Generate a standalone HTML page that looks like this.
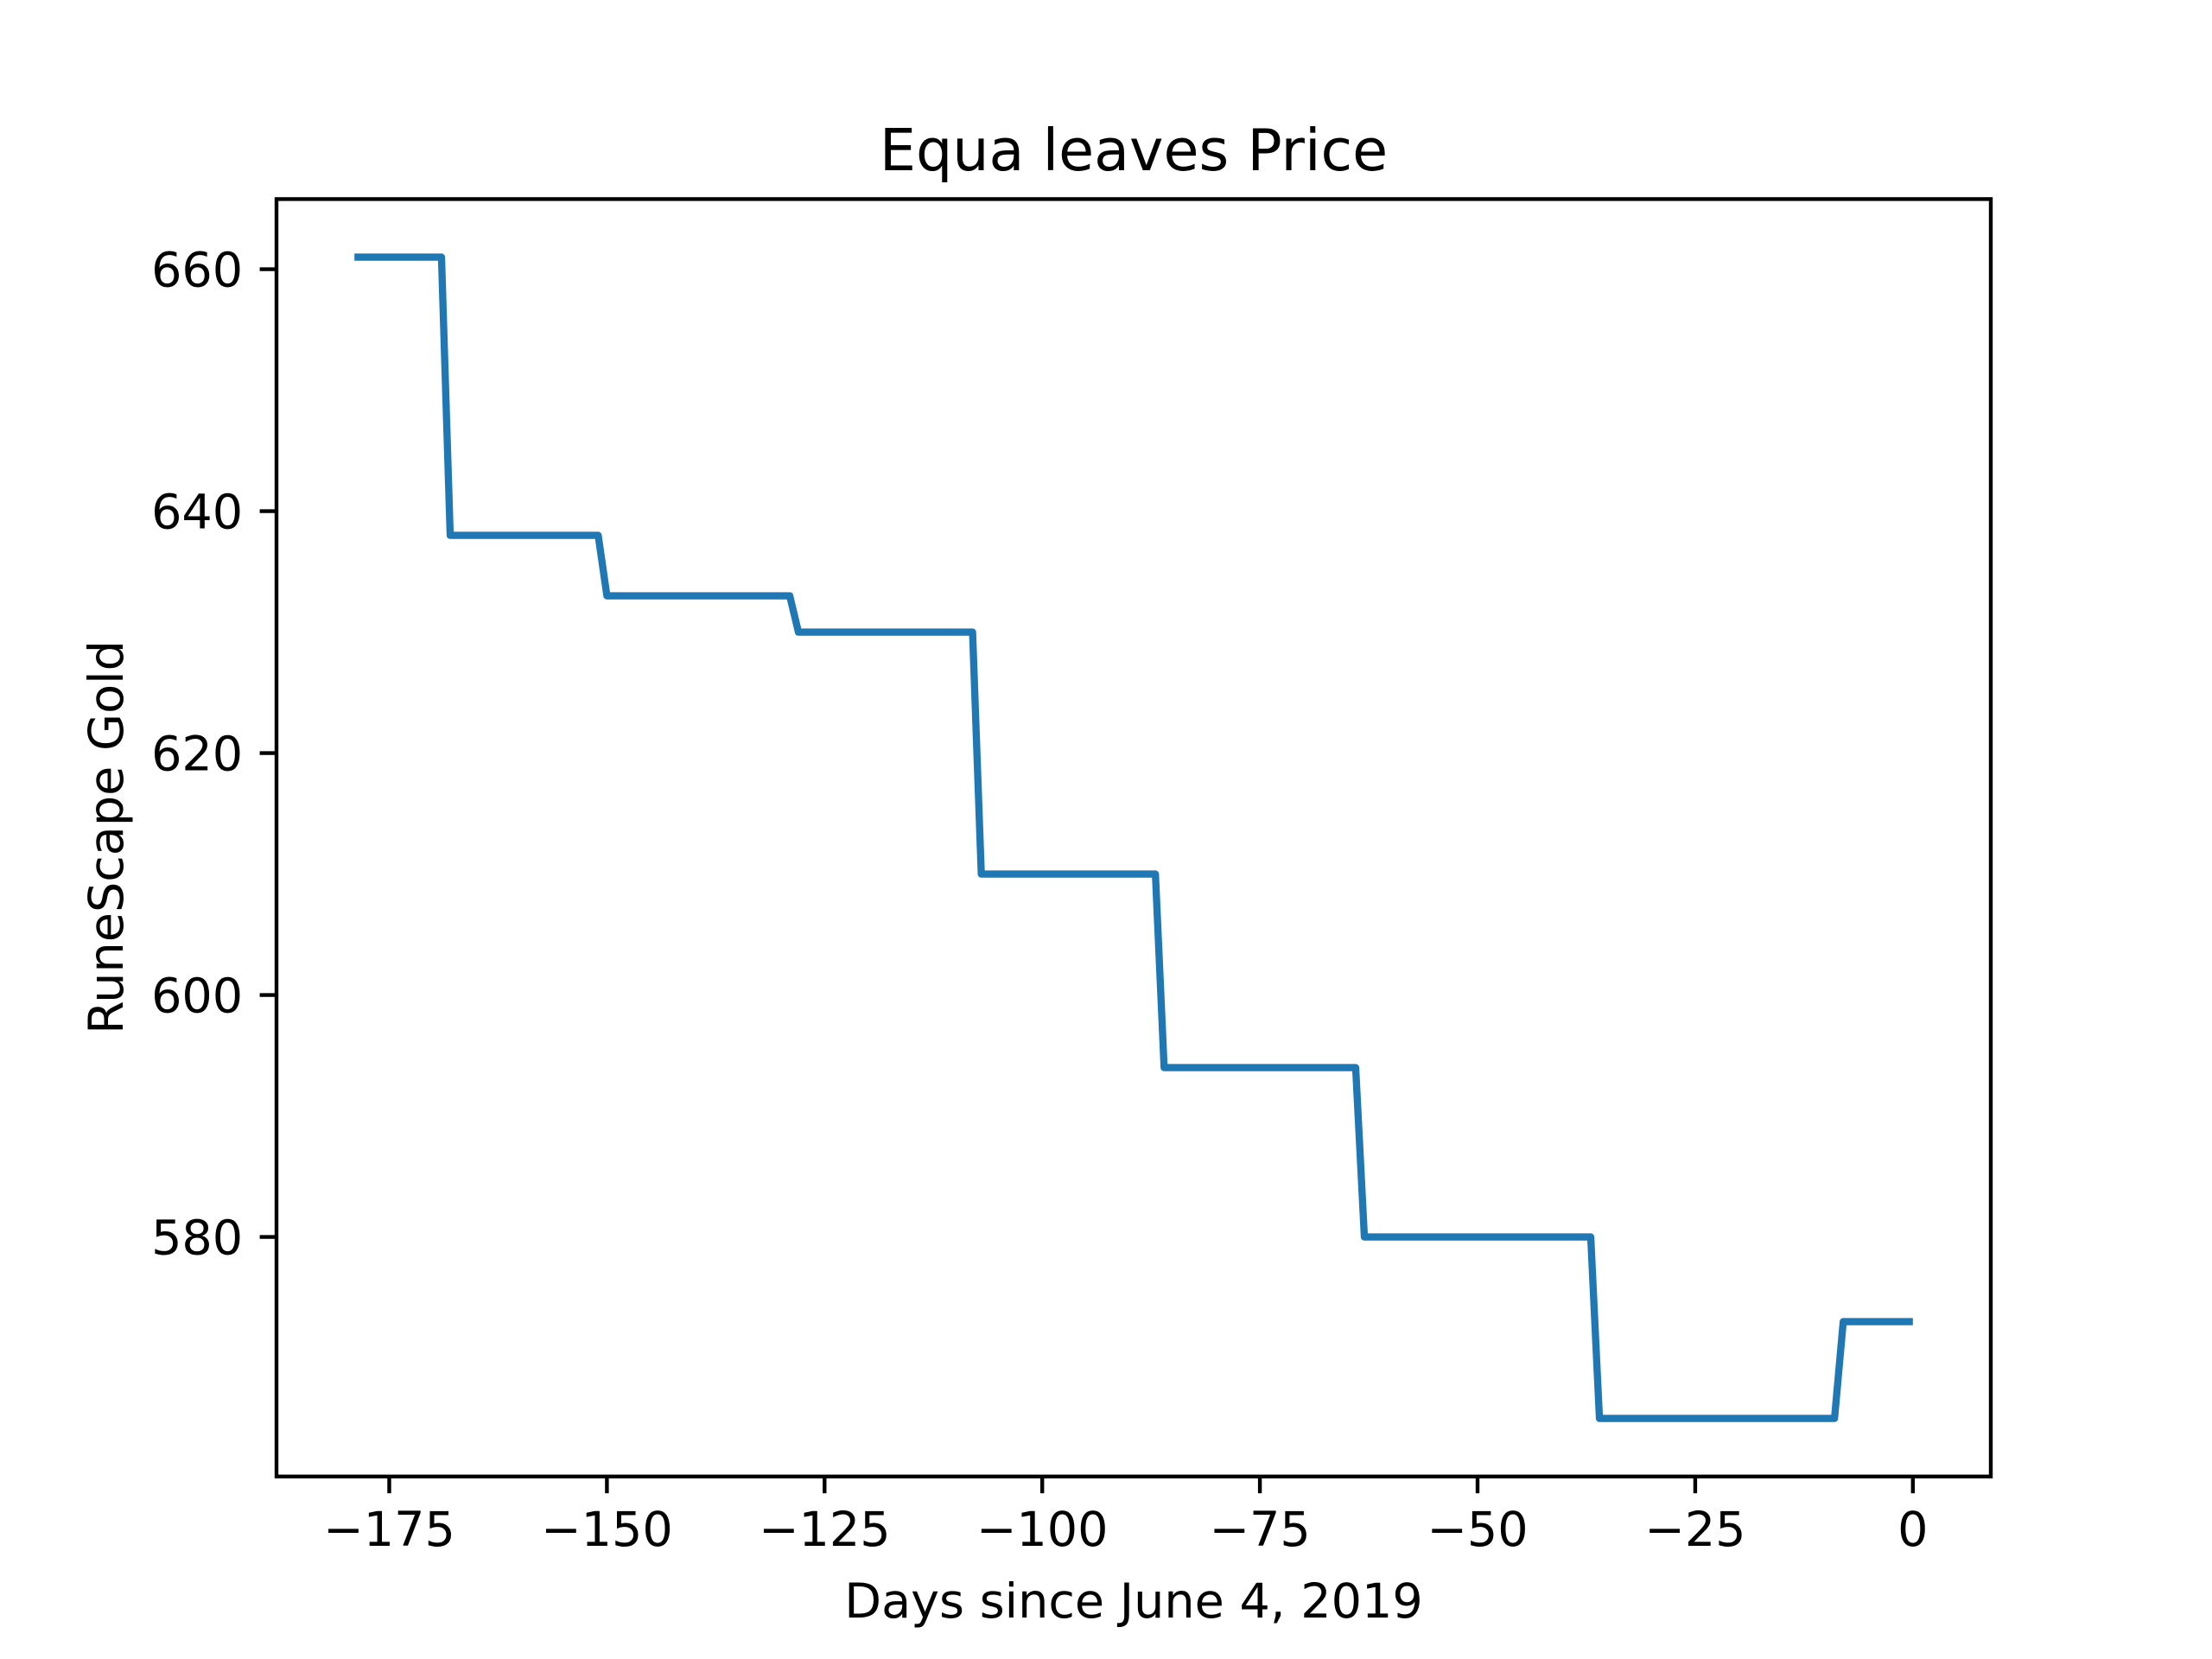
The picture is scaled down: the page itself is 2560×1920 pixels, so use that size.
<!DOCTYPE html>
<html><head><meta charset="utf-8"><style>html,body{margin:0;padding:0;background:#fff}svg{display:block}</style></head>
<body>
<svg id="chart" width="2560" height="1920" xmlns="http://www.w3.org/2000/svg" font-family="DejaVu Sans, Liberation Sans, sans-serif">
<rect width="2560" height="1920" fill="#fff"/>
<g id="plot"></g>
<text x="1312" y="197" font-size="66.7" text-anchor="middle">Equa leaves Price</text>
<text x="1312" y="1872" font-size="55.6" text-anchor="middle">Days since June 4, 2019</text>
<text x="0" y="0" font-size="55.6" text-anchor="middle" transform="translate(142,969) rotate(-90)">RuneScape Gold</text>
</svg>
<script>
const days = [-179, -169, -168, -151, -150, -129, -128, -108, -107, -87, -86, -64, -63, -37, -36, -9, -8, 0];
const prices = [661, 661, 638, 638, 633, 633, 630, 630, 610, 610, 594, 594, 580, 580, 565, 565, 573, 573];
const xTicks = [-175, -150, -125, -100, -75, -50, -25, 0];
const yTicks = [580, 600, 620, 640, 660];
const xTickLabels = ['\u2212175', '\u2212150', '\u2212125', '\u2212100', '\u221275', '\u221250', '\u221225', '0'];
const yTickLabels = ['580', '600', '620', '640', '660'];

const L = 320, R = 2304, T = 230.4, B = 1708.8;
const xmin0 = Math.min(...days), xmax0 = Math.max(...days);
const ymin0 = Math.min(...prices), ymax0 = Math.max(...prices);
const xm = (xmax0 - xmin0) * 0.05, ym = (ymax0 - ymin0) * 0.05;
const xmin = xmin0 - xm, xmax = xmax0 + xm, ymin = ymin0 - ym, ymax = ymax0 + ym;
function sx(v) { return L + (v - xmin) / (xmax - xmin) * (R - L); }
function sy(v) { return B - (v - ymin) / (ymax - ymin) * (B - T); }

const NS = 'http://www.w3.org/2000/svg';
const g = document.getElementById('plot');
function mk(tag, attrs) { const e = document.createElementNS(NS, tag); for (const k in attrs) e.setAttribute(k, attrs[k]); g.appendChild(e); return e; }

const line = mk('polyline', {points: days.map((d, i) => sx(d) + ',' + sy(prices[i])).join(' '), fill: 'none', stroke: '#1f77b4', 'stroke-width': 8.33, 'stroke-linejoin': 'round', 'stroke-linecap': 'butt'});



const frame = mk('rect', {x: L, y: T, width: R - L, height: B - T, fill: 'none', stroke: '#000', 'stroke-width': 4.4});



xTicks.forEach((v, i) => {
  const t = mk('line', {x1: sx(v), x2: sx(v), y1: B, y2: B + 19.4, stroke: '#000', 'stroke-width': 4.4});
  
  
  const tx = mk('text', {x: sx(v), y: B + 80, 'font-size': 55.6, 'text-anchor': 'middle'});
  tx.textContent = xTickLabels[i];
  
  
});
yTicks.forEach((v, i) => {
  const t = mk('line', {x1: L - 19.4, x2: L, y1: sy(v), y2: sy(v), stroke: '#000', 'stroke-width': 4.4});
  
  
  const tx = mk('text', {x: L - 38.8, y: sy(v) + 20, 'font-size': 55.6, 'text-anchor': 'end'});
  tx.textContent = yTickLabels[i];
  
  
});
</script>
</body></html>
